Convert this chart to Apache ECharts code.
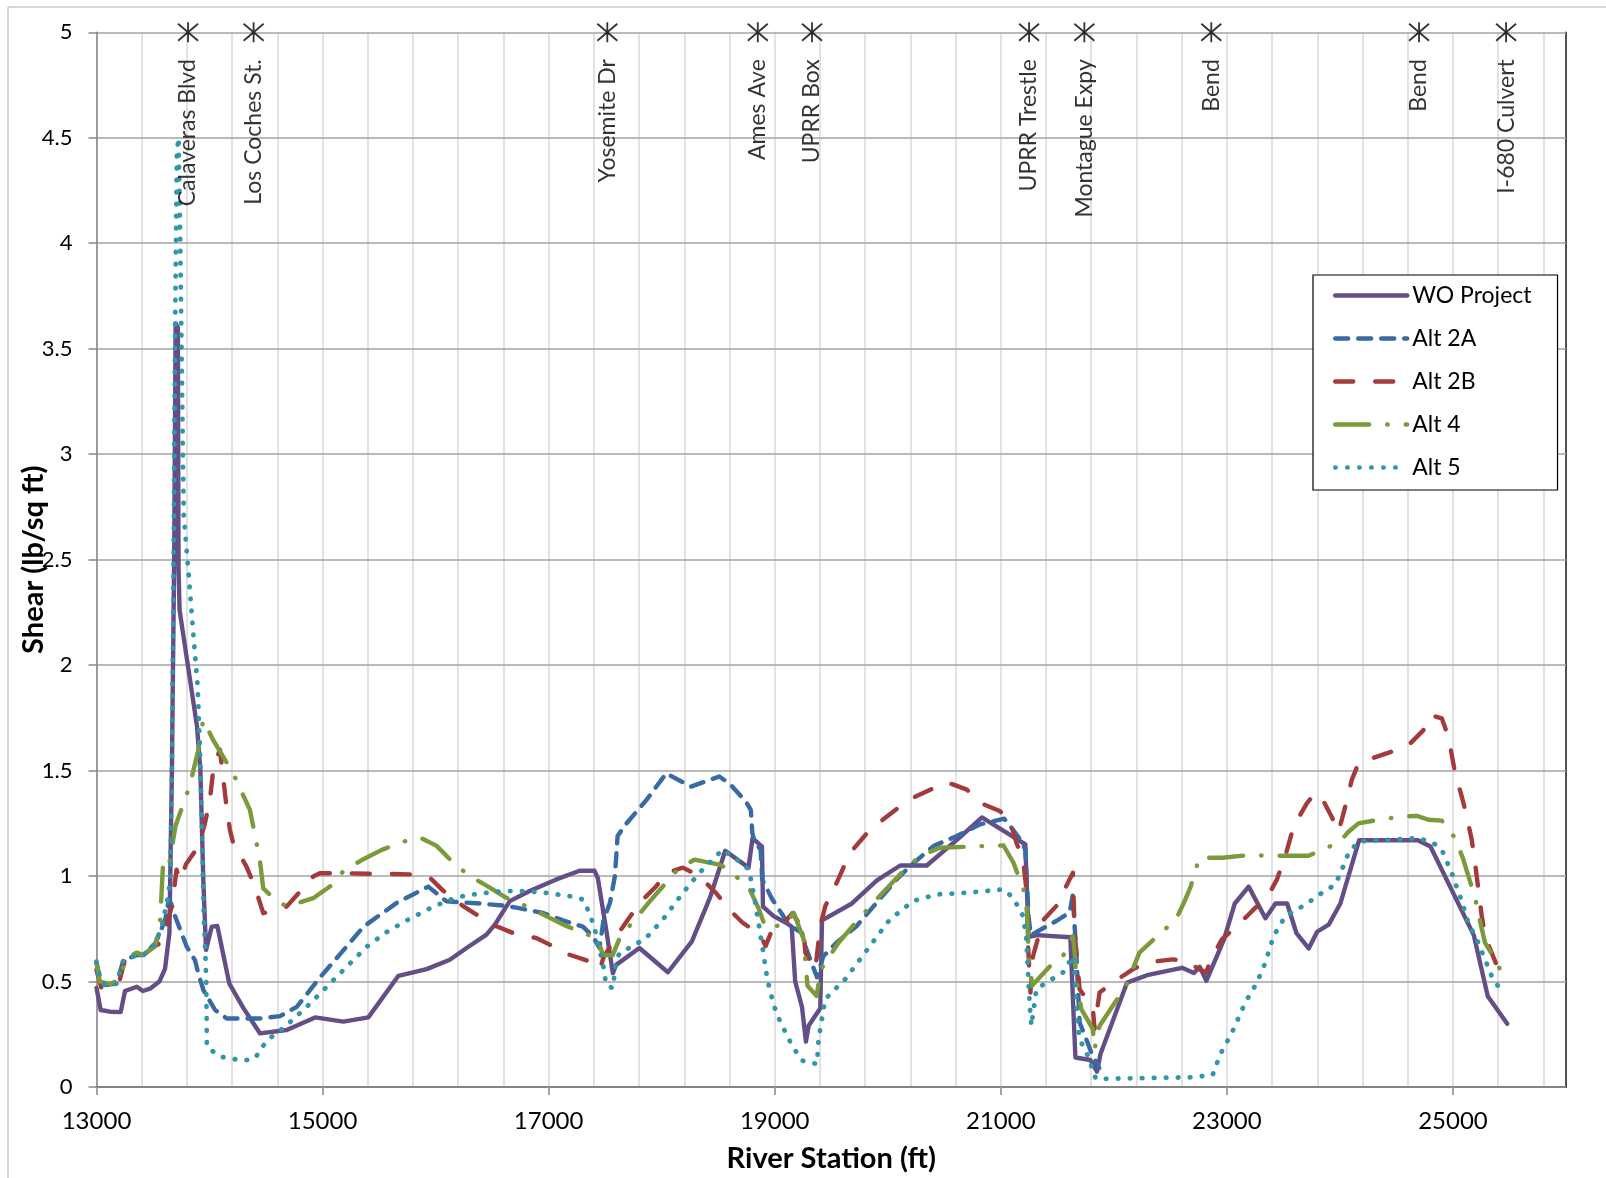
<!DOCTYPE html>
<html>
<head>
<meta charset="utf-8">
<script src="https://cdn.jsdelivr.net/npm/echarts@6/dist/echarts.min.js"></script>
<style>html,body{margin:0;padding:0;background:#fff}#c{width:1606px;height:1178px}</style>
</head>
<body>
<div id="c"></div>
<script>
// ---- data ----
const xTickLabels = [13000, 15000, 17000, 19000, 21000, 23000, 25000];
const yTickLabels = [0, 0.5, 1, 1.5, 2, 2.5, 3, 3.5, 4, 4.5, 5];
const bridgeX = [13810, 14390, 17519, 18850, 19330, 21250, 21739, 22862, 24700, 25470];
const bridgeNames = ['Calaveras Blvd', 'Los Coches St.', 'Yosemite Dr', 'Ames Ave', 'UPRR Box', 'UPRR Trestle', 'Montague Expy', 'Bend', 'Bend', 'I-680 Culvert'];
const seriesNames = ['WO Project', 'Alt 2A', 'Alt 2B', 'Alt 4', 'Alt 5'];

const woProject = [[13000,0.47],[13037,0.365],[13120,0.357],[13214,0.355],[13252,0.455],[13356,0.475],[13410,0.455],[13473,0.466],[13556,0.50],[13606,0.56],[13645,0.73],[13667,1.5],[13687,2.5],[13700,3.62],[13720,3.6],[13726,2.45],[13735,2.26],[13889,1.71],[13919,1.5],[13945,0.98],[13969,0.65],[14019,0.76],[14069,0.763],[14175,0.49],[14300,0.374],[14447,0.254],[14683,0.27],[14934,0.33],[15184,0.31],[15405,0.33],[15671,0.527],[15921,0.559],[16126,0.603],[16274,0.659],[16450,0.722],[16524,0.77],[16656,0.881],[16832,0.929],[17068,0.984],[17274,1.025],[17406,1.025],[17435,0.99],[17509,0.746],[17568,0.54],[17597,0.579],[17803,0.659],[18055,0.544],[18267,0.69],[18429,0.90],[18562,1.12],[18768,1.04],[18804,1.18],[18887,1.14],[18896,0.855],[18990,0.81],[19108,0.776],[19150,0.76],[19181,0.50],[19241,0.38],[19276,0.215],[19300,0.29],[19403,0.373],[19418,0.79],[19683,0.87],[19904,0.98],[20110,1.05],[20345,1.05],[20642,1.186],[20833,1.278],[21217,1.15],[21246,0.712],[21320,0.72],[21615,0.71],[21660,0.14],[21792,0.128],[21851,0.073],[21881,0.155],[22117,0.495],[22294,0.53],[22604,0.565],[22708,0.54],[22760,0.57],[22819,0.504],[22973,0.697],[23070,0.87],[23193,0.95],[23341,0.80],[23430,0.87],[23533,0.87],[23615,0.73],[23724,0.657],[23798,0.736],[23901,0.77],[24004,0.87],[24170,1.17],[24690,1.17],[24801,1.14],[25184,0.72],[25308,0.43],[25480,0.30]];

const alt2A = [[13000,0.59],[13030,0.52],[13075,0.483],[13179,0.49],[13237,0.6],[13356,0.625],[13415,0.625],[13518,0.68],[13562,0.73],[13610,0.80],[13640,0.886],[13660,0.87],[13695,0.81],[13798,0.665],[13872,0.60],[13900,0.54],[13945,0.46],[14049,0.365],[14152,0.325],[14447,0.325],[14624,0.336],[14772,0.38],[14978,0.52],[15155,0.63],[15362,0.76],[15656,0.873],[15935,0.95],[16097,0.88],[16391,0.87],[16597,0.86],[16715,0.85],[16950,0.825],[17126,0.79],[17303,0.76],[17391,0.714],[17450,0.66],[17484,0.787],[17542,0.873],[17586,1.0],[17610,1.19],[17689,1.25],[17864,1.36],[18040,1.487],[18260,1.424],[18509,1.472],[18597,1.44],[18744,1.354],[18788,1.314],[18802,1.204],[18817,1.17],[18875,1.125],[18890,0.983],[18978,0.89],[19095,0.795],[19139,0.763],[19242,0.73],[19271,0.668],[19374,0.52],[19430,0.62],[19548,0.685],[19725,0.763],[19902,0.874],[20079,0.984],[20197,1.047],[20404,1.142],[20610,1.19],[20817,1.245],[21030,1.272],[21083,1.237],[21171,1.174],[21216,1.126],[21230,0.984],[21245,0.81],[21265,0.72],[21359,0.748],[21491,0.787],[21609,0.827],[21638,0.913],[21653,0.763],[21668,0.637],[21697,0.306],[21756,0.227],[21800,0.164],[21870,0.09]];

const alt2B = [[13000,0.555],[13044,0.468],[13118,0.484],[13206,0.508],[13251,0.603],[13354,0.626],[13415,0.626],[13518,0.67],[13560,0.68],[13634,0.79],[13664,0.855],[13693,0.966],[13708,1.03],[13737,0.98],[13796,1.06],[13900,1.14],[13959,1.25],[14003,1.36],[14032,1.50],[14091,1.6],[14106,1.535],[14150,1.33],[14180,1.22],[14209,1.156],[14327,1.045],[14401,0.95],[14475,0.824],[14681,0.855],[14800,0.926],[14917,0.998],[14976,1.013],[15212,1.013],[15773,1.008],[15950,0.992],[16068,0.93],[16244,0.857],[16362,0.817],[16538,0.762],[16685,0.73],[16891,0.706],[17009,0.675],[17185,0.627],[17337,0.60],[17454,0.558],[17484,0.613],[17600,0.716],[17806,0.873],[17952,0.952],[18040,1.015],[18187,1.04],[18333,1.0],[18480,0.92],[18626,0.826],[18714,0.78],[18802,0.747],[18890,0.70],[18919,0.668],[18978,0.747],[19095,0.786],[19154,0.823],[19212,0.78],[19256,0.73],[19271,0.637],[19315,0.59],[19359,0.558],[19403,0.763],[19447,0.857],[19548,0.968],[19666,1.11],[19843,1.22],[20108,1.33],[20256,1.38],[20522,1.445],[20699,1.41],[20817,1.347],[20991,1.308],[21079,1.268],[21138,1.158],[21197,1.079],[21226,0.937],[21241,0.67],[21262,0.448],[21285,0.621],[21374,0.79],[21491,0.858],[21638,1.016],[21653,0.732],[21697,0.464],[21815,0.37],[21829,0.275],[21844,0.338],[21874,0.448],[21991,0.495],[22168,0.558],[22285,0.59],[22521,0.605],[22638,0.598],[22756,0.558],[22815,0.543],[22874,0.621],[22956,0.70],[23103,0.77],[23251,0.849],[23354,0.896],[23442,0.983],[23516,1.093],[23590,1.235],[23707,1.345],[23781,1.393],[23840,1.37],[23928,1.28],[23987,1.21],[24032,1.298],[24105,1.456],[24164,1.535],[24282,1.558],[24459,1.59],[24606,1.62],[24739,1.692],[24798,1.763],[24901,1.748],[24960,1.66],[25019,1.487],[25078,1.377],[25122,1.282],[25166,1.172],[25196,1.06],[25225,0.935],[25255,0.81],[25284,0.715],[25343,0.636],[25402,0.557],[25461,0.51]];

const alt4 = [[13000,0.587],[13029,0.5],[13118,0.489],[13206,0.508],[13251,0.603],[13354,0.637],[13413,0.626],[13516,0.666],[13560,0.76],[13590,1.07],[13640,1.05],[13700,1.24],[13826,1.43],[13900,1.598],[13944,1.74],[14032,1.645],[14209,1.487],[14357,1.314],[14401,1.195],[14445,1.077],[14475,0.942],[14534,0.911],[14681,0.855],[14917,0.895],[15068,0.952],[15185,1.024],[15347,1.076],[15524,1.124],[15685,1.159],[15862,1.183],[16009,1.143],[16156,1.063],[16303,1.0],[16465,0.95],[16626,0.897],[16832,0.85],[16979,0.81],[17141,0.767],[17318,0.727],[17391,0.714],[17450,0.675],[17480,0.627],[17565,0.624],[17630,0.708],[17762,0.794],[17894,0.88],[18128,1.023],[18289,1.078],[18509,1.054],[18568,1.04],[18773,0.944],[18861,0.842],[18919,0.755],[19095,0.771],[19168,0.826],[19256,0.70],[19271,0.598],[19290,0.48],[19370,0.432],[19410,0.558],[19564,0.684],[19740,0.794],[19902,0.89],[20138,1.024],[20285,1.095],[20463,1.134],[20832,1.142],[21024,1.145],[21112,1.063],[21200,0.937],[21230,0.858],[21245,0.637],[21275,0.48],[21437,0.574],[21550,0.621],[21638,0.716],[21653,0.637],[21668,0.511],[21712,0.369],[21815,0.274],[21829,0.18],[21874,0.29],[21991,0.385],[22109,0.48],[22226,0.637],[22403,0.724],[22550,0.795],[22632,0.888],[22680,0.95],[22756,1.087],[22962,1.087],[23168,1.098],[23516,1.096],[23722,1.096],[23870,1.132],[23987,1.156],[24076,1.21],[24164,1.25],[24341,1.267],[24547,1.282],[24680,1.285],[24783,1.267],[24901,1.263],[25019,1.18],[25093,1.077],[25137,0.998],[25196,0.896],[25240,0.785],[25284,0.683],[25373,0.604],[25461,0.51]];

const alt5 = [[13000,0.594],[13030,0.52],[13075,0.483],[13179,0.49],[13237,0.6],[13356,0.625],[13415,0.625],[13518,0.68],[13577,0.76],[13627,0.886],[13652,0.98],[13667,1.5],[13681,2.43],[13696,3.63],[13711,4.43],[13726,4.5],[13741,4.0],[13764,3.0],[13772,2.71],[13815,2.43],[13859,2.13],[13895,1.9],[13919,1.53],[13933,1.21],[13948,0.82],[13963,0.635],[13970,0.51],[13974,0.35],[13976,0.19],[14093,0.144],[14300,0.125],[14400,0.135],[14506,0.22],[14668,0.286],[14860,0.38],[15037,0.475],[15243,0.586],[15391,0.665],[15553,0.73],[15745,0.79],[15980,0.855],[16187,0.9],[16391,0.917],[16597,0.929],[16803,0.929],[16979,0.92],[17185,0.905],[17303,0.889],[17347,0.84],[17391,0.778],[17421,0.722],[17450,0.65],[17480,0.587],[17509,0.484],[17568,0.468],[17597,0.6],[17630,0.637],[17747,0.668],[17864,0.708],[18011,0.794],[18187,0.92],[18333,1.015],[18538,1.125],[18685,1.07],[18773,1.03],[18817,0.905],[18861,0.763],[18890,0.668],[18934,0.511],[18993,0.385],[19051,0.306],[19154,0.196],[19242,0.125],[19374,0.109],[19388,0.228],[19447,0.417],[19623,0.511],[19799,0.637],[19974,0.763],[20020,0.795],[20226,0.882],[20433,0.913],[20699,0.921],[21024,0.937],[21109,0.897],[21197,0.81],[21226,0.70],[21241,0.543],[21256,0.385],[21271,0.29],[21315,0.464],[21403,0.495],[21550,0.543],[21638,0.621],[21653,0.543],[21668,0.353],[21697,0.227],[21785,0.132],[21815,0.069],[21844,0.038],[22109,0.041],[22697,0.046],[22874,0.057],[22941,0.155],[23044,0.257],[23162,0.4],[23265,0.494],[23339,0.588],[23413,0.715],[23516,0.809],[23693,0.864],[23840,0.92],[23958,0.959],[24017,1.03],[24076,1.109],[24164,1.164],[24695,1.18],[24828,1.156],[24901,1.125],[24990,1.014],[25078,0.88],[25137,0.778],[25211,0.70],[25284,0.604],[25343,0.525],[25447,0.439]];

// ---- chart ----
const FONT = 'Lato, "Liberation Sans", sans-serif';
const chart = echarts.init(document.getElementById('c'), null, {renderer: 'canvas'});

function lineSeries(name, data, color, type, width) {
  return {
    name: name, type: 'line', data: data, symbol: 'none', showSymbol: false,
    xAxisIndex: 0, yAxisIndex: 0,
    lineStyle: {color: color, width: width, type: type, cap: 'round', join: 'round'},
    itemStyle: {color: color},
    emphasis: {disabled: true}
  };
}

const option = {
  animation: false,
  backgroundColor: '#fff',
  textStyle: {fontFamily: FONT},
  grid: {left: 96.5, top: 32.3, right: 40, bottom: 91, containLabel: false, outerBoundsMode: 'none'},
  graphic: [{
    type: 'rect', shape: {x: 8, y: 7, width: 1620, height: 1200},
    style: {fill: 'none', stroke: '#b0b0b0', lineWidth: 1}, silent: true, z: -10
  }],
  legend: {
    orient: 'vertical', left: 1313, top: 275,
    data: seriesNames,
    itemWidth: 72, itemHeight: 12, itemGap: 20,
    padding: [9, 26, 11, 20],
    borderColor: '#000', borderWidth: 1.2, backgroundColor: '#fff',
    itemStyle: {opacity: 0},
    lineStyle: {width: 4.4},
    textStyle: {fontSize: 23, color: '#000', fontFamily: FONT},
    selectedMode: false
  },
  xAxis: [{
    type: 'value', min: 13000, max: 26000, interval: 2000, position: 'bottom',
    name: 'River Station (ft)', nameLocation: 'middle', nameGap: 57, nameMoveOverlap: false,
    nameTextStyle: {fontSize: 29, fontWeight: 'bold', color: '#000', fontFamily: FONT},
    axisLine: {show: true, onZero: false, lineStyle: {color: '#868686', width: 1.5}},
    axisTick: {show: true, length: 8, lineStyle: {color: '#868686', width: 1.5}},
    axisLabel: {fontSize: 24, color: '#000', margin: 22, showMaxLabel: false, fontFamily: FONT,
      formatter: v => (xTickLabels.indexOf(v) >= 0 ? String(v) : '')},
    splitLine: {show: false}
  }, {
    type: 'value', min: 13000, max: 26000, interval: 400, position: 'top',
    axisLine: {show: true, lineStyle: {color: '#000', width: 1.6}},
    axisTick: {show: false}, axisLabel: {show: false},
    splitLine: {show: true, lineStyle: {color: '#d9d9d9', width: 1.5}}
  }],
  yAxis: [{
    type: 'value', min: 0, max: 5, interval: 0.5, position: 'left',
    name: 'Shear (lb/sq ft)', nameLocation: 'middle', nameGap: 48, nameRotate: 90, nameMoveOverlap: false,
    nameTextStyle: {fontSize: 29, fontWeight: 'bold', color: '#000', fontFamily: FONT},
    axisLine: {show: true, lineStyle: {color: '#868686', width: 1.5}},
    axisTick: {show: true, length: 8, lineStyle: {color: '#868686', width: 1.5}},
    axisLabel: {fontSize: 22, color: '#000', margin: 24, fontFamily: FONT,
      formatter: v => (yTickLabels.indexOf(v) >= 0 ? String(v) : '')},
    splitLine: {show: true, lineStyle: {color: '#a3a3a3', width: 1.6}},
    z: 3
  }, {
    type: 'value', min: 0, max: 5, interval: 0.5, position: 'right',
    axisLine: {show: true, lineStyle: {color: '#222', width: 1.5}},
    axisTick: {show: false}, axisLabel: {show: false}, splitLine: {show: false}
  }],
  series: [
    lineSeries(seriesNames[0], woProject, '#644e88', 'solid', 4.4),
    lineSeries(seriesNames[1], alt2A, '#386ba3', [13, 10], 4.4),
    lineSeries(seriesNames[2], alt2B, '#a33b3b', [18, 22], 4.4),
    lineSeries(seriesNames[3], alt4, '#7b9a3b', [34, 18, 0.5, 18], 4.4),
    lineSeries(seriesNames[4], alt5, '#3296aa', [0.5, 11.5], 4.8),
    {
      name: 'bridges', type: 'scatter', xAxisIndex: 0, yAxisIndex: 0, clip: false, z: 10,
      data: bridgeX.map((x, i) => ({value: [x, 5], name: bridgeNames[i]})),
      symbol: 'path://M10,0 L10,20 M1.5,1.5 L18.5,18.5 M18.5,1.5 L1.5,18.5',
      symbolSize: 20,
      itemStyle: {color: 'rgba(0,0,0,0)', borderColor: '#000', borderWidth: 1.8},
      label: {
        show: true, formatter: p => p.name, position: 'bottom', distance: 16,
        rotate: 90, align: 'right', verticalAlign: 'middle',
        fontSize: 23, color: '#000', fontFamily: FONT
      },
      emphasis: {disabled: true}
    }
  ]
};
chart.setOption(option);
</script>
</body>
</html>
